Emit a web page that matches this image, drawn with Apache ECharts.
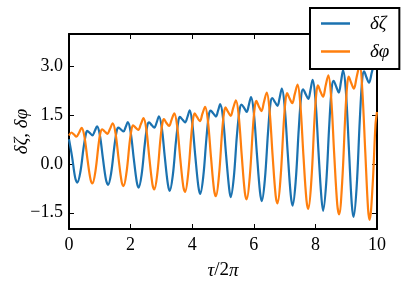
<!DOCTYPE html>
<html>
<head>
<meta charset="utf-8">
<script src="https://cdn.jsdelivr.net/npm/echarts@6/dist/echarts.min.js"></script>
<style>
html,body{margin:0;padding:0;background:#fff;}
#chart{width:411px;height:294px;}
</style>
</head>
<body>
<div id="chart"></div>
<script>
// τ/2π sample positions and values
const zetaT = [0,0.1,0.2,0.27,0.37,0.47,0.55,0.59,0.68,0.76,0.84,0.91,
  1.0,1.1,1.2,1.27,1.37,1.47,1.55,1.6,1.69,1.77,1.84,1.91,
  2.0,2.1,2.2,2.26,2.36,2.46,2.54,2.6,2.69,2.77,2.85,2.92,
  3.01,3.11,3.21,3.27,3.37,3.47,3.55,3.6,3.69,3.77,3.85,3.92,
  4.0,4.1,4.2,4.26,4.36,4.46,4.54,4.6,4.69,4.77,4.84,4.91,
  5.0,5.1,5.2,5.25,5.35,5.45,5.54,5.6,5.69,5.77,5.84,5.91,
  6.0,6.1,6.2,6.26,6.36,6.46,6.54,6.6,6.69,6.77,6.84,6.91,
  7.0,7.1,7.2,7.26,7.36,7.46,7.54,7.6,7.69,7.77,7.84,7.91,
  8.0,8.1,8.19,8.25,8.35,8.45,8.53,8.59,8.68,8.76,8.83,8.9,
  8.99,9.09,9.18,9.24,9.34,9.44,9.52,9.58,9.66,9.74,9.84,9.94,10.0];
const zetaV = [0.76,0.22,-0.42,-0.57,-0.24,0.48,0.93,1.02,0.95,0.88,1.02,1.16,
  0.90,0.18,-0.48,-0.64,-0.27,0.52,1.02,1.12,1.06,1.0,1.14,1.29,
  0.99,0.19,-0.55,-0.73,-0.31,0.60,1.17,1.28,1.19,1.12,1.29,1.47,
  1.13,0.22,-0.62,-0.83,-0.35,0.67,1.32,1.45,1.36,1.28,1.46,1.65,
  1.27,0.25,-0.69,-0.92,-0.38,0.77,1.5,1.64,1.55,1.46,1.64,1.84,
  1.42,0.28,-0.76,-1.02,-0.42,0.86,1.67,1.83,1.72,1.6,1.82,2.06,
  1.59,0.32,-0.85,-1.14,-0.47,0.95,1.86,2.03,1.9,1.79,2.04,2.32,
  1.79,0.36,-0.96,-1.28,-0.53,1.08,2.1,2.3,2.14,2.0,2.28,2.59,
  2.0,0.39,-0.97,-1.44,-0.6,1.2,2.34,2.56,2.37,2.2,2.53,2.89,
  2.23,0.43,-1.22,-1.63,-0.69,1.33,2.6,2.85,2.66,2.5,2.85,3.12,2.98];

const phiT = [0,0.08,0.16,0.24,0.33,0.41,0.5,0.6,0.7,0.76,0.86,0.96,1.02,
  1.08,1.16,1.25,1.33,1.42,1.51,1.61,1.71,1.77,1.87,1.97,2.03,
  2.08,2.16,2.25,2.33,2.42,2.51,2.61,2.71,2.77,2.87,2.97,3.03,
  3.08,3.16,3.25,3.33,3.42,3.51,3.61,3.71,3.77,3.87,3.97,4.03,
  4.08,4.16,4.25,4.33,4.42,4.51,4.61,4.71,4.77,4.87,4.97,5.03,
  5.08,5.16,5.25,5.33,5.42,5.51,5.61,5.71,5.77,5.87,5.97,6.03,
  6.08,6.16,6.25,6.33,6.42,6.51,6.61,6.71,6.77,6.87,6.97,7.03,
  7.08,7.16,7.25,7.33,7.42,7.51,7.61,7.71,7.77,7.87,7.97,8.03,
  8.08,8.16,8.25,8.33,8.42,8.51,8.61,8.71,8.77,8.87,8.97,9.03,
  9.08,9.16,9.25,9.34,9.44,9.52,9.62,9.71,9.76,9.86,9.95,10.0];
const phiV = [0.88,0.97,0.91,0.84,0.97,1.11,0.85,0.14,-0.48,-0.6,-0.21,0.60,0.96,
  1.07,1.0,0.93,1.08,1.25,0.95,0.16,-0.55,-0.68,-0.24,0.67,1.07,
  1.19,1.12,1.05,1.22,1.41,1.07,0.17,-0.63,-0.78,-0.27,0.78,1.24,
  1.38,1.27,1.17,1.36,1.56,1.18,0.19,-0.69,-0.86,-0.29,0.88,1.4,
  1.56,1.44,1.32,1.54,1.76,1.33,0.21,-0.8,-0.99,-0.35,0.98,1.56,
  1.74,1.61,1.48,1.72,1.96,1.49,0.24,-0.88,-1.09,-0.38,1.09,1.74,
  1.94,1.78,1.63,1.91,2.2,1.67,0.27,-0.97,-1.21,-0.41,1.23,1.96,
  2.18,2.02,1.87,2.15,2.44,1.85,0.28,-1.11,-1.38,-0.49,1.36,2.17,
  2.42,2.24,2.07,2.4,2.73,2.07,0.31,-1.25,-1.55,-0.55,1.5,2.41,
  2.69,2.5,2.32,2.68,3.05,2.32,0.36,-1.39,-1.72,-0.62,1.2,1.6];

const xTicks = [0,2,4,6,8,10];
const yTicks = [-1.5,0,1.5,3.0];
const seriesNames = ['δζ','δφ'];

const blue = '#1b72b0', orange = '#ff7f0e';
const serif = 'Liberation Serif';
const zip = (t,v) => t.map((x,i)=>[x,v[i]]);
const yFmt = v => (v < 0 ? '\u2212' : '') + Math.abs(v).toFixed(1);

const chart = echarts.init(document.getElementById('chart'), null, {renderer:'canvas'});
const axisLine = {show:true, onZero:false, lineStyle:{color:'#000', width:2}};
const tick = {show:true, inside:true, length:5, lineStyle:{color:'#000', width:1}};
chart.setOption({
  animation:false,
  backgroundColor:'#fff',
  grid:{left:69, right:34, top:34, bottom:65, containLabel:false, outerBoundsMode:'none'},
  legend:{
    orient:'vertical', left:310, top:8,
    backgroundColor:'#fff', borderColor:'#000', borderWidth:2, borderRadius:0,
    padding:[6,10,8,11], itemGap:9, itemWidth:29, itemHeight:2.5, icon:'rect',
    textStyle:{fontFamily:serif, fontSize:19, fontStyle:'italic', color:'#000', padding:[0,0,0,15], lineHeight:18},
    data:seriesNames
  },
  xAxis:[{
    type:'value', min:0, max:10, interval:2,
    axisLine:axisLine, axisTick:tick, splitLine:{show:false},
    axisLabel:{fontFamily:serif, fontSize:18, color:'#000', margin:7},
    name:'{i|τ}{n|/2}{i|π}', nameLocation:'middle', nameGap:32, nameMoveOverlap:false,
    nameTextStyle:{rich:{i:{fontFamily:serif, fontSize:19, fontStyle:'italic', color:'#000'}, n:{fontFamily:serif, fontSize:19, color:'#000'}}}
  },{
    type:'value', min:0, max:10, interval:2, position:'top',
    axisLine:axisLine, axisTick:tick, axisLabel:{show:false}, splitLine:{show:false}
  }],
  yAxis:[{
    type:'value', min:-2, max:4,
    axisLine:axisLine,
    axisTick:Object.assign({customValues:yTicks}, tick),
    axisLabel:{customValues:yTicks, formatter:yFmt, fontFamily:serif, fontSize:18, color:'#000', margin:6},
    splitLine:{show:false},
    name:'δζ, δφ', nameLocation:'middle', nameGap:38, nameRotate:90, nameMoveOverlap:false,
    nameTextStyle:{fontFamily:serif, fontSize:19, fontStyle:'italic', color:'#000'}
  },{
    type:'value', min:-2, max:4, position:'right',
    axisLine:axisLine,
    axisTick:Object.assign({customValues:yTicks}, tick),
    axisLabel:{show:false, customValues:yTicks}, splitLine:{show:false}
  }],
  series:[{
    name:seriesNames[0], type:'line', data:zip(zetaT,zetaV), smooth:0.35, showSymbol:false, symbol:'none',
    lineStyle:{color:blue, width:2.2}, itemStyle:{color:blue}, z:2
  },{
    name:seriesNames[1], type:'line', data:zip(phiT,phiV), smooth:0.35, showSymbol:false, symbol:'none',
    lineStyle:{color:orange, width:2.2}, itemStyle:{color:orange}, z:3
  }]
});
</script>
</body>
</html>
